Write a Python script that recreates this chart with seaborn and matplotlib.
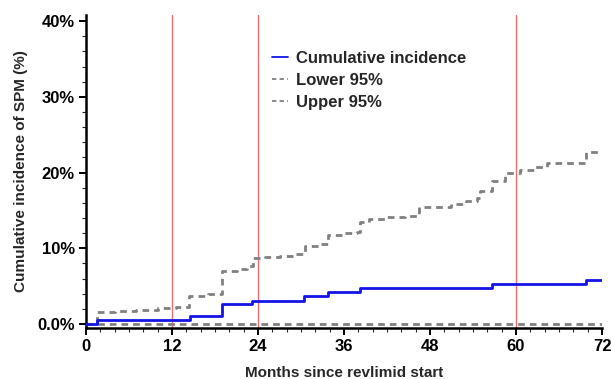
import matplotlib
matplotlib.use("Agg")
import matplotlib.pyplot as plt
import seaborn as sns
import pandas as pd
from matplotlib.ticker import MultipleLocator

# ---- data ----
ci_months = [0, 1.5, 14.5, 19.0, 23.2, 30.4, 33.8, 38.2, 56.6, 69.7, 72]
ci_values = [0, 0.5, 1.0, 2.65, 3.1, 3.7, 4.2, 4.75, 5.3, 5.85, 5.85]

upper_months = [0, 1.5, 4, 7, 10, 12.5, 14.4, 17, 19.0, 21, 22.5, 23.3, 25, 27, 29,
                30.5, 32.5, 33.8, 36, 37.8, 38.3, 39.5, 42, 44.5, 46.5, 49, 51, 53,
                54.5, 55, 56.6, 58.4, 60.5, 62.5, 64.3, 69.8, 72]
upper_values = [0, 1.6, 1.75, 1.9, 2.05, 2.2, 3.75, 3.95, 7.0, 7.2, 7.6, 8.7, 8.9, 9.0, 9.2,
                10.3, 10.6, 11.8, 12.0, 12.2, 13.5, 13.9, 14.1, 14.3, 15.5, 15.4, 15.8, 16.2,
                16.6, 17.6, 18.9, 20.0, 20.4, 20.7, 21.3, 22.7, 22.7]

lower_months = [0, 72]
lower_values = [0, 0]

ref_lines = [12, 24, 60]
x_ticks = [0, 12, 24, 36, 48, 60, 72]
y_ticks = [0, 10, 20, 30, 40]
y_tick_labels = ["0.0%", "10%", "20%", "30%", "40%"]

# ---- plot ----
sns.set_style("ticks")
plt.rcParams['font.family'] = ['Liberation Sans', 'DejaVu Sans']

fig = plt.figure(figsize=(6.11, 3.79), dpi=100)
ax = fig.add_axes([86/611, 1 - 327.5/379, (602-86)/611, (327.5-15)/379])

for xv in ref_lines:
    ax.axvline(xv, color="#ee7070", lw=1.0, zorder=1)

df_ci = pd.DataFrame({"m": ci_months, "v": ci_values})
df_lo = pd.DataFrame({"m": lower_months, "v": lower_values})
df_up = pd.DataFrame({"m": upper_months, "v": upper_values})

dash = (0, (2.4, 1.8))
sns.lineplot(data=df_ci, x="m", y="v", ax=ax, drawstyle="steps-post",
             color="#1414e6", lw=2.0, label="Cumulative incidence", zorder=3)
sns.lineplot(data=df_lo, x="m", y="v", ax=ax, drawstyle="steps-post",
             color="#808080", lw=2.0, label="Lower 95%", zorder=2, linestyle=dash)
sns.lineplot(data=df_up, x="m", y="v", ax=ax, drawstyle="steps-post",
             color="#808080", lw=2.0, label="Upper 95%", zorder=2, linestyle=dash)

ax.set_xlim(0, 72)
ax.set_ylim(-0.46, 40.8)
ax.set_xticks(x_ticks)
ax.set_xticklabels([str(t) for t in x_ticks])
ax.set_yticks(y_ticks)
ax.set_yticklabels(y_tick_labels)
ax.xaxis.set_minor_locator(MultipleLocator(2))
ax.yaxis.set_minor_locator(MultipleLocator(2))

sns.despine(ax=ax)
for s in ["left", "bottom"]:
    ax.spines[s].set_linewidth(1.8)
    ax.spines[s].set_color("black")
ax.tick_params(axis="both", which="major", length=5, width=1.4, labelsize=12, colors="black", pad=3)
ax.tick_params(axis="both", which="minor", length=3, width=0.8)
for lab in ax.get_xticklabels() + ax.get_yticklabels():
    lab.set_fontweight("bold")

ax.set_xlabel("Months since revlimid start", fontsize=11, fontweight="bold", labelpad=9)
ax.set_ylabel("Cumulative incidence of SPM (%)", fontsize=11, fontweight="bold", labelpad=7)

leg = ax.legend(loc="upper left", bbox_to_anchor=(0.36, 0.885), frameon=False,
                fontsize=12, handlelength=1.0, handletextpad=0.45, labelspacing=0.42,
                borderaxespad=0, borderpad=0)
for t in leg.get_texts():
    t.set_fontweight("bold")
for ln in leg.get_lines():
    ln.set_linewidth(1.3)

fig.savefig("out.png", dpi=100)
